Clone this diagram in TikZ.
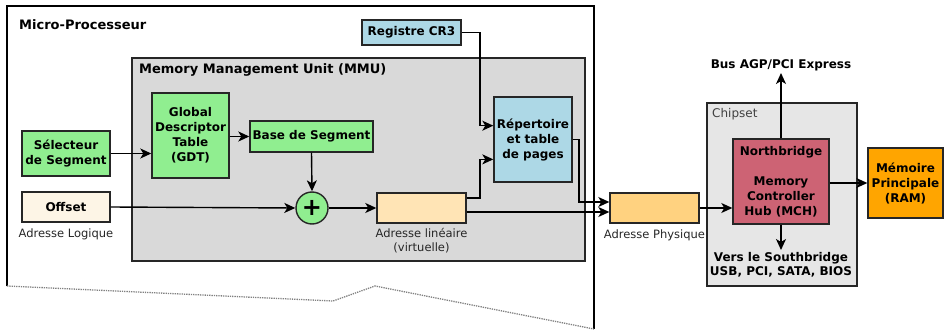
\documentclass[tikz,border=0pt]{standalone}
\usepackage{fontspec}
\setmainfont{DejaVu Sans}
\usetikzlibrary{arrows.meta,calc}
\definecolor{gdtgreen}{HTML}{90EE90}
\definecolor{regblue}{HTML}{ADD8E6}
\definecolor{offsetc}{HTML}{FDF5E6}
\definecolor{linc}{HTML}{FFE4B5}
\definecolor{physc}{HTML}{FFD280}
\definecolor{nbc}{HTML}{CD6374}
\definecolor{ramc}{HTML}{FFA500}
\definecolor{mmuc}{HTML}{D9D9D9}
\definecolor{chipc}{HTML}{E6E6E6}
\begin{document}
\begin{tikzpicture}[x=1pt,y=-1pt,
  box/.style={draw=black!85, line width=1.4pt, inner sep=0pt, align=center,
    font=\fontsize{12}{15}\selectfont\bfseries},
  group/.style={draw=black!85, line width=1.4pt, inner sep=0pt},
  arr/.style={line width=1.4pt, -{Stealth[length=11pt,width=10pt,inset=3pt]}},
  lbl/.style={font=\fontsize{11.5}{14}\selectfont, align=center, inner sep=0pt, text=black!85},
  blbl/.style={font=\fontsize{12}{14}\selectfont\bfseries, align=center, inner sep=0pt}]
\useasboundingbox (0,0) rectangle (944,331);
% groups
\node[group, fill=mmuc, minimum width=453pt, minimum height=203pt] (mmu) at (358.5,159.5) {};
\draw[line width=2.2pt, black] (7,286) -- (7,6) -- (594,6) -- (594,329);
\draw[gray, densely dotted, line width=1.3pt] (7,286) -- (333,301) -- (375,286) -- (594,329);
\node[group, fill=chipc, minimum width=150pt, minimum height=183pt] (chip) at (782,194.5) {};
% titles
\node[anchor=west, inner sep=0pt, font=\fontsize{13}{15}\selectfont\bfseries] (mptitle) at (19,25) {Micro-Processeur};
\node[anchor=west, inner sep=0pt, font=\fontsize{13}{15}\selectfont\bfseries] (mmutitle) at (139,70) {Memory Management Unit (MMU)};
\node[anchor=west, inner sep=0pt, font=\fontsize{12}{14}\selectfont, text=black!75] (chiptitle) at (712,114) {Chipset};
% boxes
\node[box, fill=gdtgreen, minimum width=88pt, minimum height=45pt] (sel) at (66,153.5) {Sélecteur\\de Segment};
\node[box, fill=offsetc, minimum width=88pt, minimum height=30pt] (off) at (66,207) {Offset};
\node[box, fill=gdtgreen, minimum width=77pt, minimum height=85pt] (gdt) at (190.5,135.5) {Global\\Descriptor\\Table\\(GDT)};
\node[box, fill=gdtgreen, minimum width=123pt, minimum height=31pt] (base) at (311.5,136.5) {Base de Segment};
\node[draw=black!85, line width=1.4pt, circle, fill=gdtgreen, minimum size=32pt, inner sep=0pt,
  font=\fontsize{24}{24}\selectfont\bfseries] (plus) at (312,208) {+};
\node[box, fill=linc, minimum width=89pt, minimum height=30pt] (lin) at (421.5,208) {};
\node[box, fill=regblue, minimum width=78pt, minimum height=85pt] (rep) at (533,139.5) {Répertoire\\et table\\de pages};
\node[box, fill=regblue, minimum width=99pt, minimum height=25pt] (cr3) at (411.5,32.5) {Registre CR3};
\node[box, fill=physc, minimum width=89pt, minimum height=30pt] (phys) at (654.5,208) {};
\node[box, fill=nbc, minimum width=96pt, minimum height=85pt] (nb) at (781,181.5) {Northbridge\\[15pt]Memory\\Controller\\Hub (MCH)};
\node[box, fill=ramc, minimum width=75pt, minimum height=70pt] (ram) at (905.5,183) {Mémoire\\Principale\\(RAM)};
% labels
\node[lbl] (loglbl) at (66,234) {Adresse Logique};
\node[lbl] (linlbl) at (421.5,241) {Adresse linéaire\\(virtuelle)};
\node[lbl] (physlbl) at (654.5,235) {Adresse Physique};
\node[blbl] (bus) at (781,65) {Bus AGP/PCI Express};
\node[blbl] (south) at (781,265) {Vers le Southbridge\\USB, PCI, SATA, BIOS};
% helper coordinates
\coordinate (j1) at (480,0);
\coordinate (j2) at (579,0);
\coordinate (linup) at ([yshift=10pt]lin.east);
\coordinate (lindn) at ([yshift=-4pt]lin.east);
\coordinate (busend) at (781,73);
\coordinate (southend) at (781,250);
% connectors
\draw[arr] (sel.east) -- (sel.east -| gdt.west);
\draw[arr] (gdt.east |- base.west) -- (base.west);
\draw[arr] (base.south) -- (plus.north);
\draw[arr] (off.east) -- (plus.west);
\draw[arr] (plus.east) -- (lin.west);
\draw[arr] (cr3.east) -- (cr3.east -| j1) |- ($(rep.north west)!0.34!(rep.south west)$);
\draw[arr] (linup) -- (linup -| j1) |- ($(rep.north west)!0.73!(rep.south west)$);
\draw[arr] (rep.east) -- (rep.east -| j2) |- ([yshift=6pt]phys.west);
\draw[arr] (lindn) -- (lindn -| phys.west);
\draw[arr] (phys.east) -- (nb.west |- phys.east);
\draw[arr] (nb.north) -- (busend);
\draw[arr] (nb.south) -- (southend);
\draw[arr] (nb.east |- ram.west) -- (ram.west);
\end{tikzpicture}
\end{document}
